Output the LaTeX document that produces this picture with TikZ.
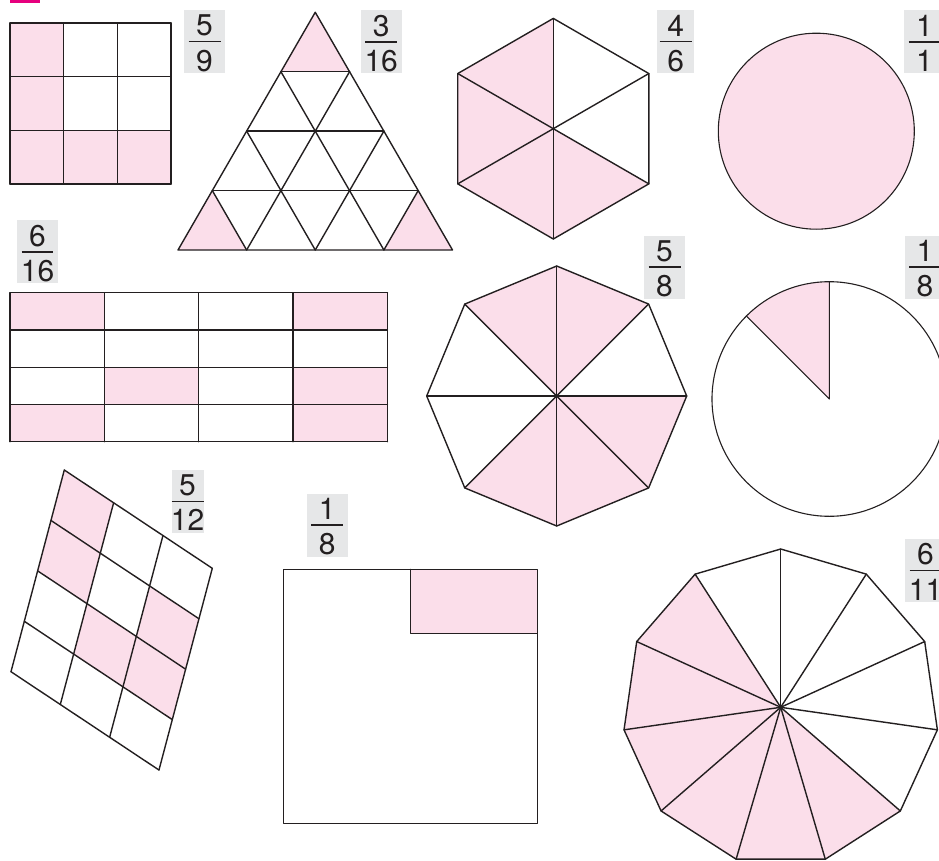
\documentclass[tikz,border=0pt]{standalone}
\usepackage{fontspec}
\newfontfamily\fracfont{TeX Gyre Heros}
\usetikzlibrary{calc}
\definecolor{fracpink}{RGB}{251, 222, 234}
\definecolor{fracgray}{RGB}{230, 231, 232}
\definecolor{fracink}{RGB}{35, 31, 32}
\definecolor{fracmagenta}{RGB}{230, 0, 126}
\newcommand{\frc}[2]{\vbox{\hbox to 32pt{\hss#1\hss}\kern4.5pt\hrule height 1.5pt\kern7.5pt\hbox to 32pt{\hss#2\hss}\kern-3.7pt}}

\begin{document}
\begin{tikzpicture}[x=1pt, y=1pt,
      part/.style={draw=fracink, line width=1.4pt, line join=round, line cap=round},
      shade/.style={fill=fracpink},
      frac/.style={fill=fracgray, inner sep=0pt, minimum width=41pt, minimum height=63pt, text=fracink, font=\fracfont\fontsize{30}{36}\selectfont}
    ]
      \useasboundingbox (0,0) rectangle (939,-861);
      \fill[fracmagenta] (10,0) rectangle (40,-3);

      \begin{scope}[shift={(10,-23)}, x={(53.67pt,0pt)}, y={(0pt,-53.67pt)}]
        \foreach \c/\r in {0/0,0/1,0/2,1/2,2/2}
          \fill[shade] (\c,\r) rectangle ++(1,1);
        \foreach \k in {0,...,3} {
          \draw[part] (\k,0) -- (\k,3);
          \draw[part] (0,\k) -- (3,\k);
        }
      \end{scope}

      \begin{scope}[shift={(178,-250)}, x={(68.625pt,0pt)}, y={(34.3125pt,59.43pt)}]
        \fill[shade] (0,3) -- (1,3) -- (0,4) -- cycle;
        \fill[shade] (0,0) -- (1,0) -- (0,1) -- cycle;
        \fill[shade] (4,0) -- (3,0) -- (3,1) -- cycle;
        \foreach \k in {1,2,3} {
          \draw[part] (0,\k) -- (4-\k,\k);
          \draw[part] (\k,0) -- (\k,4-\k);
          \draw[part] (\k,0) -- (0,\k);
        }
        \draw[part] (0,0) -- (4,0) -- (0,4) -- cycle;
      \end{scope}

      \begin{scope}[shift={(553.3,-128.7)}]
        \foreach \a in {90,150,210,270}
          \fill[shade] (0,0) -- (\a:110.3) -- (\a+60:110.3) -- cycle;
        \foreach \a in {30,90,...,330}
          \draw[part] (0,0) -- (\a:110.3);
        \draw[part] (30:110.3) \foreach \a in {90,150,...,330} { -- (\a:110.3) } -- cycle;
      \end{scope}

      \draw[part, shade, line width=1.1pt] (816.3,-131.2) circle[radius=98];

      \begin{scope}[shift={(10,-292.7)}, x={(94.33pt,0pt)}, y={(0pt,-37.25pt)}]
        \foreach \c/\r in {0/0,3/0,1/2,3/2,0/3,3/3}
          \fill[shade] (\c,\r) rectangle ++(1,1);
        \foreach \k in {0,...,4} {
          \draw[part] (\k,0) -- (\k,4);
          \draw[part] (0,\k) -- (4,\k);
        }
      \end{scope}

      \begin{scope}[shift={(556.7,-396)}]
        \foreach \a in {45,90,225,270,315}
          \fill[shade] (0,0) -- (\a:130) -- (\a+45:130) -- cycle;
        \foreach \a in {0,45,...,315}
          \draw[part] (0,0) -- (\a:130);
        \draw[part] (0:130) \foreach \a in {45,90,...,315} { -- (\a:130) } -- cycle;
      \end{scope}

      \begin{scope}[shift={(829.3,-399)}]
        \fill[shade] (0,0) -- (90:117.3) arc[start angle=90, end angle=135, radius=117.3] -- cycle;
        \draw[part, line width=1.1pt] (0,0) circle[radius=117.3];
        \draw[part, line width=1.1pt] (135:117.3) -- (0,0) -- (90:117.3);
      \end{scope}

      \begin{scope}[shift={(64.3,-470)}, x={(49.33pt,-32.77pt)}, y={(-13.33pt,-50.43pt)}]
        \foreach \c/\r in {0/0,0/1,2/1,1/2,2/2}
          \fill[shade] (\c,\r) -- ++(1,0) -- ++(0,1) -- ++(-1,0) -- cycle;
        \foreach \k in {0,...,3}
          \draw[part] (\k,0) -- (\k,4);
        \foreach \k in {0,...,4}
          \draw[part] (0,\k) -- (3,\k);
      \end{scope}

      \fill[shade] (410.3,-569.3) rectangle (537.3,-633.3);
      \draw[part, line width=1.2pt] (410.3,-569.3) |- (537.3,-633.3);
      \draw[part, line width=1.2pt] (283.3,-569.3) rectangle (537.3,-823.3);

      \begin{scope}[shift={(780.7,-707.3)}]
        \foreach \k in {4,...,9}
          \fill[shade] (0,0) -- ({90-\k*360/11}:158.3) -- ({90-(\k+1)*360/11}:158.3) -- cycle;
        \foreach \k in {0,...,10}
          \draw[part] (0,0) -- ({90-\k*360/11}:158.3);
        \draw[part] (90:158.3) \foreach \k in {1,...,10} { -- ({90-\k*360/11}:158.3) } -- cycle;
      \end{scope}

      \node[frac] (f59) at (204.5,-41.5) {\frc{5}{9}};
      \node[frac] (f316) at (381.2,-41.5) {\frc{3}{16}};
      \node[frac, minimum width=37pt] (f46) at (675.7,-41.5) {\frc{4}{6}};
      \node[frac] (f11) at (924.5,-41.5) {\frc{1}{1}};
      \node[frac] (f616) at (37.5,-251.7) {\frc{6}{16}};
      \node[frac] (f58) at (664.5,-267) {\frc{5}{8}};
      \node[frac] (f18pie) at (925,-267) {\frc{1}{8}};
      \node[frac, minimum width=32pt] (f512) at (187.5,-501) {\frc{5}{12}};
      \node[frac] (f18sq) at (327.2,-525) {\frc{1}{8}};
      \node[frac] (f611) at (925.5,-570) {\frc{6}{11}};
    \end{tikzpicture}
\end{document}
